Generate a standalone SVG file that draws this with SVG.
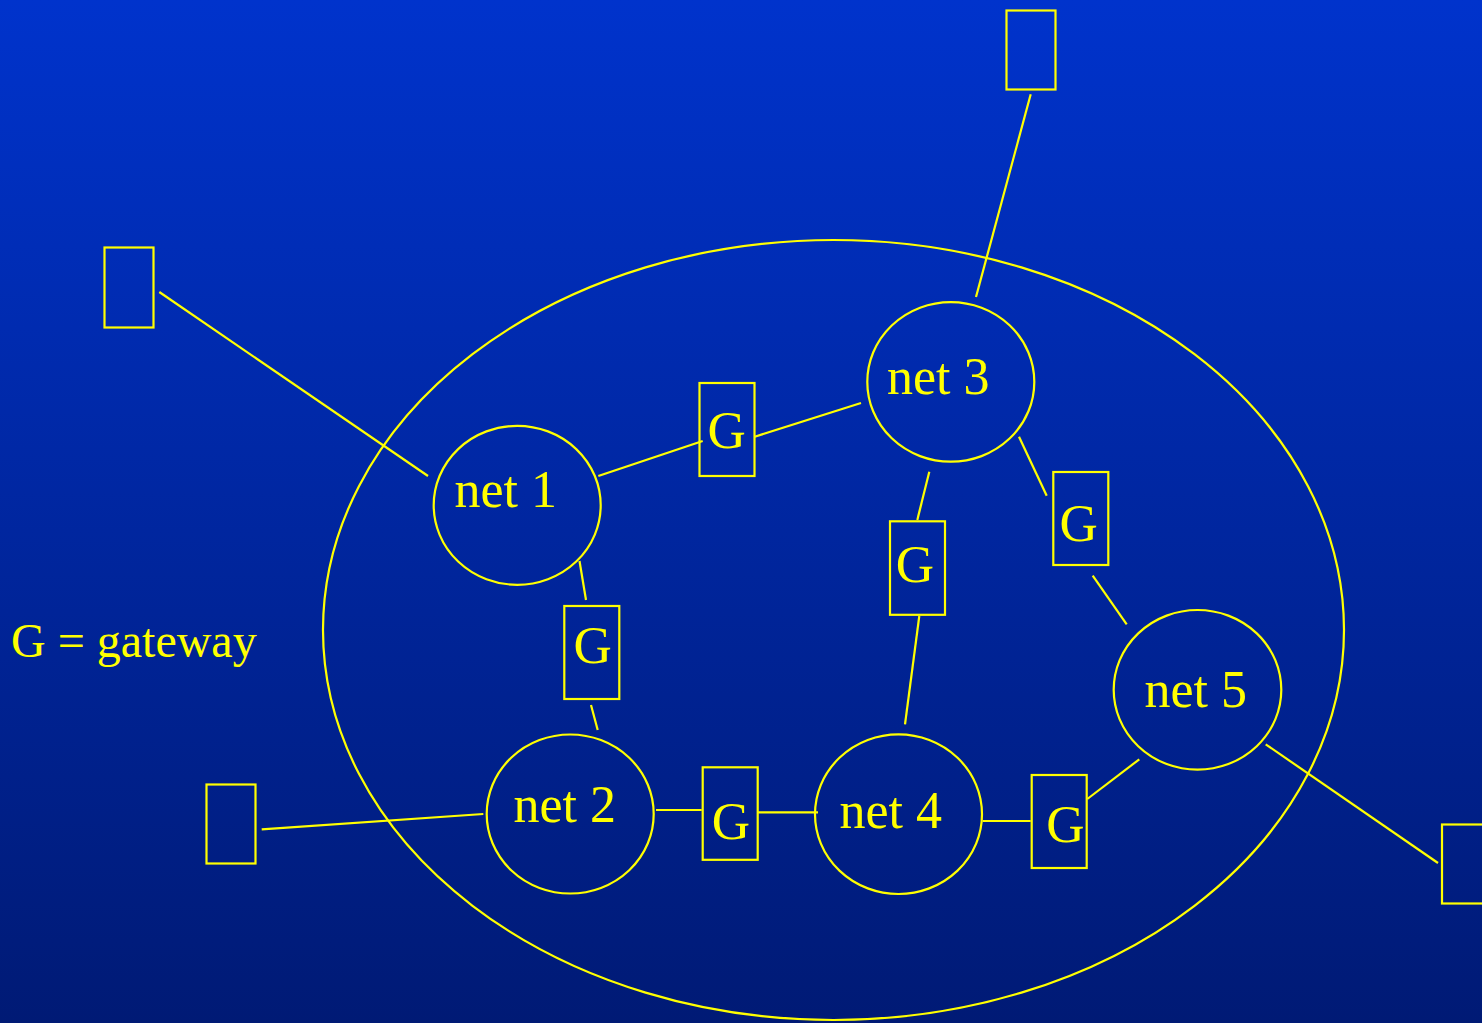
<svg xmlns="http://www.w3.org/2000/svg" width="1482" height="1023" viewBox="0 0 1482 1023">
<defs>
<linearGradient id="bg" x1="0" y1="0" x2="0" y2="1">
<stop offset="0" stop-color="#0033cc"/>
<stop offset="1" stop-color="#001a75"/>
</linearGradient>
</defs>
<style>
.s{fill:none;stroke:#ffff00;stroke-width:2.2}
.t{fill:#ffff00;font-family:"Liberation Serif","Times New Roman",serif;font-size:52px}
.g{fill:#ffff00;font-family:"Liberation Serif","Times New Roman",serif;font-size:53px}
.lg{fill:#ffff00;font-family:"Liberation Serif","Times New Roman",serif;font-size:48px}
</style>
<rect x="0" y="0" width="1482" height="1023" fill="url(#bg)"/>
<g id="internet"><ellipse class="s" cx="833.5" cy="630" rx="510.5" ry="390"/></g>
<g id="connectors">
<line class="s" x1="1030.7" y1="94.3" x2="976" y2="297"/>
<line class="s" x1="159.3" y1="292" x2="428" y2="476"/>
<line class="s" x1="261.7" y1="829.3" x2="483.3" y2="814"/>
<line class="s" x1="1265.7" y1="744.3" x2="1438" y2="863"/>
<line class="s" x1="598.3" y1="476" x2="702.7" y2="441"/>
<line class="s" x1="754.7" y1="436.7" x2="861" y2="403"/>
<line class="s" x1="579.5" y1="561" x2="586" y2="600"/>
<line class="s" x1="591" y1="705" x2="597.7" y2="730"/>
<line class="s" x1="929.3" y1="471.7" x2="917.3" y2="520"/>
<line class="s" x1="919.3" y1="616" x2="905" y2="724.3"/>
<line class="s" x1="1019" y1="436.7" x2="1046.7" y2="495.7"/>
<line class="s" x1="1092.7" y1="575.7" x2="1126.7" y2="624.3"/>
<line class="s" x1="656" y1="810" x2="701.7" y2="810"/>
<line class="s" x1="758" y1="812.3" x2="818" y2="812.3"/>
<line class="s" x1="982.7" y1="821" x2="1030.7" y2="821"/>
<line class="s" x1="1087.3" y1="799" x2="1139.3" y2="759.3"/>
</g>
<g id="net1"><ellipse class="s" cx="517.2" cy="505.3" rx="83.5" ry="79.5"/><text class="t" x="454.5" y="507">net 1</text></g>
<g id="net2"><ellipse class="s" cx="570.2" cy="814" rx="83.5" ry="79.5"/><text class="t" x="513.5" y="822">net 2</text></g>
<g id="net3"><ellipse class="s" cx="950.8" cy="381.9" rx="83.5" ry="79.8"/><text class="t" x="887" y="393.5">net 3</text></g>
<g id="net4"><ellipse class="s" cx="898.5" cy="814.2" rx="83.5" ry="79.8"/><text class="t" x="839.5" y="828">net 4</text></g>
<g id="net5"><ellipse class="s" cx="1197.5" cy="689.8" rx="83.8" ry="79.8"/><text class="t" x="1144.5" y="707">net 5</text></g>
<g id="g13"><rect class="s" x="699.5" y="383" width="55" height="93"/><text class="g" x="707.5" y="448">G</text></g>
<g id="g12"><rect class="s" x="564.3" y="606" width="55" height="93"/><text class="g" x="573.5" y="663">G</text></g>
<g id="g34"><rect class="s" x="890" y="521.3" width="55" height="93.5"/><text class="g" x="895.8" y="582">G</text></g>
<g id="g35"><rect class="s" x="1053.3" y="472" width="55" height="93"/><text class="g" x="1059.5" y="541">G</text></g>
<g id="g24"><rect class="s" x="702.7" y="767.3" width="55" height="92.5"/><text class="g" x="711.8" y="838.5">G</text></g>
<g id="g45"><rect class="s" x="1031.7" y="775" width="55" height="93"/><text class="g" x="1046.2" y="842">G</text></g>
<g id="host3"><rect class="s" x="1006.5" y="10.5" width="49" height="79"/></g>
<g id="host1"><rect class="s" x="104.5" y="247.5" width="49" height="80"/></g>
<g id="host2"><rect class="s" x="206.5" y="784.5" width="49" height="79"/></g>
<g id="host5"><rect class="s" x="1442" y="824.5" width="49" height="79"/></g>
<g id="legend"><text class="lg" x="11" y="657">G = gateway</text></g>
</svg>
